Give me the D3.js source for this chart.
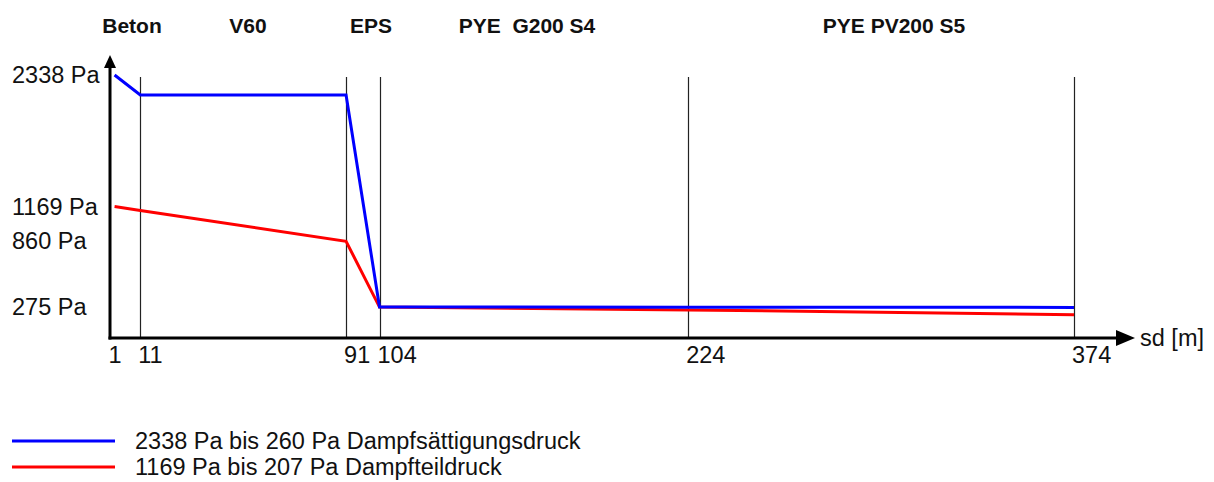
<!DOCTYPE html>
<html>
<head>
<meta charset="utf-8">
<script src="https://cdn.jsdelivr.net/npm/d3@7"></script>
<style>
  body { margin: 0; background: #fff; }
  svg text { font-family: "Liberation Sans", Arial, sans-serif; fill: #111; }
  .layer { font-weight: bold; font-size: 21px; }
  .lbl { font-size: 23.5px; }
</style>
</head>
<body>
<div id="chart"></div>
<script>
// layers and their boundaries (sd in m)
let layers = ["Beton", "V60", "EPS", "PYE  G200 S4", "PYE PV200 S5"];
let sdPoints = [1, 11, 91, 104, 224, 374];
let yTicks = [2338, 1169, 860, 275];

// pressures at the boundaries (Pa)
let saturation = [2338, 2160, 2160, 275, 274, 272];
let partial = [1169, 1134, 860, 275, 250, 207];

let legendTexts = [
    "2338 Pa bis 260 Pa Dampfsättigungsdruck",
    "1169 Pa bis 207 Pa Dampfteildruck"
];

let svgWidth = 1214;
let svgHeight = 482;

let svg = d3.select("#chart")
    .append("svg")
    .attr("width", svgWidth)
    .attr("height", svgHeight);

//scales
let x = d3.scaleLinear().domain([0, 374]).range([112, 1074]);
let y = d3.scaleLinear().domain([0, 2338]).range([338, 75]);

let axisX = 110, axisY = 338;

//layer boundary lines
svg.selectAll(".bound")
    .data(sdPoints.slice(1))
    .join("line")
    .attr("x1", d => Math.round(x(d)) + 0.5)
    .attr("x2", d => Math.round(x(d)) + 0.5)
    .attr("y1", 77)
    .attr("y2", axisY)
    .attr("stroke", "#222")
    .attr("stroke-width", 1.2);

//layer names
let labelX = [132, 248, 371, 527, 894];
svg.selectAll(".layer")
    .data(layers)
    .join("text")
    .attr("class", "layer")
    .attr("x", (d, i) => labelX[i])
    .attr("y", 33)
    .attr("text-anchor", "middle")
    .attr("xml:space", "preserve")
    .style("white-space", "pre")
    .text(d => d);

//curves
let line = d3.line()
    .x((d, i) => x(sdPoints[i]))
    .y(d => y(d));

svg.append("path")
    .attr("d", line(partial))
    .attr("fill", "none")
    .attr("stroke", "#ff0000")
    .attr("stroke-width", 3);

svg.append("path")
    .attr("d", line(saturation))
    .attr("fill", "none")
    .attr("stroke", "#0000ff")
    .attr("stroke-width", 3);

//axes
svg.append("line")
    .attr("x1", axisX).attr("x2", axisX)
    .attr("y1", 64).attr("y2", axisY + 1.5)
    .attr("stroke", "#000").attr("stroke-width", 3);
svg.append("path")
    .attr("d", `M${axisX - 6},68 L${axisX},55 L${axisX + 6},68 Z`)
    .attr("fill", "#000");

svg.append("line")
    .attr("x1", axisX - 1.5).attr("x2", 1120)
    .attr("y1", axisY).attr("y2", axisY)
    .attr("stroke", "#000").attr("stroke-width", 3);
svg.append("path")
    .attr("d", `M1116,${axisY - 8} L1135,${axisY} L1116,${axisY + 8} Z`)
    .attr("fill", "#000");

svg.append("text")
    .attr("class", "lbl")
    .attr("x", 1140)
    .attr("y", axisY + 8)
    .text("sd [m]");

//x tick labels
svg.selectAll(".xt")
    .data(sdPoints)
    .join("text")
    .attr("class", "lbl")
    .attr("x", (d, i) => i === 0 ? x(d) - 6 : x(d) - 2)
    .attr("y", 363)
    .text(d => d);

//y tick labels
svg.selectAll(".yt")
    .data(yTicks)
    .join("text")
    .attr("class", "lbl")
    .attr("x", 12)
    .attr("y", d => y(d) + 8)
    .text(d => d + " Pa");

//legend
let legendColors = ["#0000ff", "#ff0000"];
let legend = svg.selectAll(".leg")
    .data(legendTexts)
    .join("g")
    .attr("transform", (d, i) => `translate(0, ${441 + i * 26})`);

legend.append("line")
    .attr("x1", 12).attr("x2", 115)
    .attr("y1", 0).attr("y2", 0)
    .attr("stroke", (d, i) => legendColors[i])
    .attr("stroke-width", 3);

legend.append("text")
    .attr("class", "lbl")
    .attr("x", 135)
    .attr("y", 8)
    .text(d => d);
</script>
</body>
</html>
